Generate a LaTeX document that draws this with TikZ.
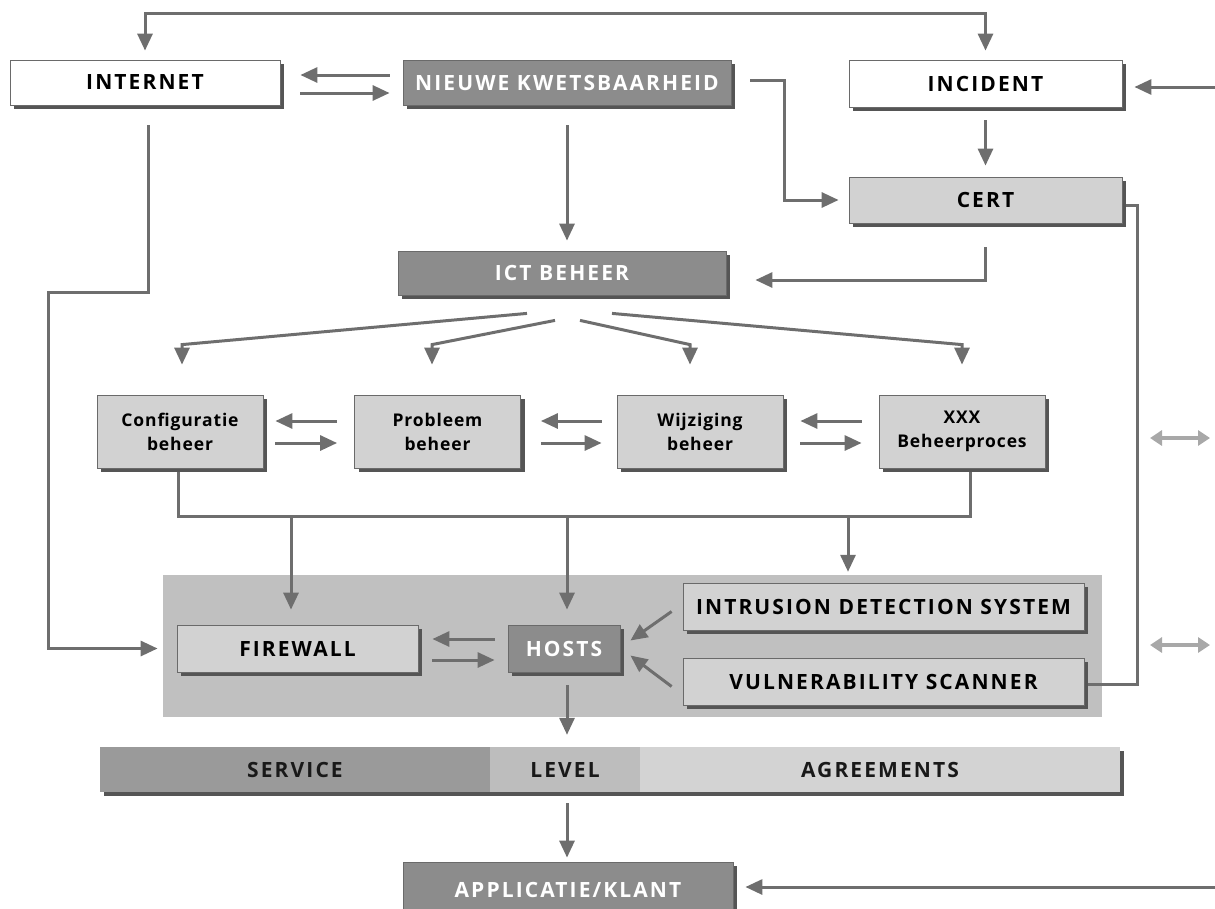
\documentclass[tikz,border=0pt]{standalone}
\usepackage{fontspec}
\setmainfont{Open Sans}
\newfontfamily\capsfont{Open Sans}[LetterSpace=10]
\newfontfamily\procfont{Open Sans}[LetterSpace=5]
\usetikzlibrary{arrows.meta,calc,shadows}
\definecolor{linec}{HTML}{6E6E6E}
\definecolor{borderc}{HTML}{6A6A6A}
\definecolor{shadowc}{HTML}{555555}
\definecolor{darkc}{HTML}{8C8C8C}
\definecolor{lightc}{HTML}{D2D2D2}
\definecolor{zonec}{HTML}{C0C0C0}
\definecolor{slaA}{HTML}{9A9A9A}
\definecolor{slaB}{HTML}{BDBDBD}
\definecolor{slaC}{HTML}{D3D3D3}
\definecolor{palec}{HTML}{A8A8A8}
\pgfdeclarelayer{back}
\pgfdeclarelayer{wires}
\pgfsetlayers{back,wires,main}
\tikzset{
  base/.style={draw=borderc, line width=0.8pt, inner sep=0pt, align=center,
    drop shadow={shadow xshift=4pt, shadow yshift=-4pt, fill=shadowc, opacity=1}},
  whitebox/.style={base, fill=white, text=black},
  lightbox/.style={base, fill=lightc, text=black},
  darkbox/.style={base, fill=darkc, text=white},
  caps/.style={font=\capsfont\bfseries\fontsize{21}{24}\selectfont},
  proc/.style={lightbox, font=\procfont\bfseries\fontsize{17.5}{24}\selectfont,
    minimum width=166pt, minimum height=73pt},
  slaseg/.style={inner sep=0pt, minimum height=45pt, text=black!90, caps},
  wire/.style={draw=linec, line width=3pt},
  arr/.style={wire, -{Triangle[length=17pt,width=15pt]}},
  dbl/.style={draw=linec, line width=3pt,
    {Triangle[length=17pt,width=15pt]}-{Triangle[length=17pt,width=15pt]}},
  pale/.style={draw=palec, line width=4pt,
    {Triangle[length=12pt,width=15pt]}-{Triangle[length=12pt,width=15pt]}},
}
\begin{document}
\begin{tikzpicture}[x=1pt,y=-1pt]
\useasboundingbox (0,0) rectangle (1215,908);
\clip (0,0) rectangle (1215,908);

% ---------- boxes ----------
\node[whitebox, caps, minimum width=270pt, minimum height=45pt] (internet) at (145,82.5) {INTERNET};
\node[darkbox, caps, minimum width=328pt, minimum height=45pt] (nieuwe) at (567,82.5) {NIEUWE KWETSBAARHEID};
\node[whitebox, caps, minimum width=273pt, minimum height=47pt] (incident) at (985.5,83.5) {INCIDENT};
\node[lightbox, caps, minimum width=273pt, minimum height=46pt] (cert) at (985.5,200) {CERT};
\node[darkbox, caps, minimum width=328pt, minimum height=44pt] (ict) at (562,273) {ICT BEHEER};

\node[proc] (conf) at (180,431.5) {Configuratie\\beheer};
\node[proc] (prob) at (437.5,431.5) {Probleem\\beheer};
\node[proc] (wijz) at (700,431.5) {Wijziging\\beheer};
\node[proc] (xxx)  at (962,431.5) {XXX\\Beheerproces};

\begin{pgfonlayer}{back}
  \node[fill=zonec, inner sep=0pt, minimum width=939pt, minimum height=142pt] (zone) at (632.5,646) {};
\end{pgfonlayer}
\node[lightbox, caps, minimum width=241pt, minimum height=47pt] (firewall) at (297.5,648.5) {FIREWALL};
\node[darkbox, caps, minimum width=112pt, minimum height=47pt] (hosts) at (564,648.5) {HOSTS};
\node[lightbox, caps, minimum width=401pt, minimum height=47pt] (ids) at (883.5,606.5) {INTRUSION DETECTION SYSTEM};
\node[lightbox, caps, minimum width=401pt, minimum height=47pt] (vuln) at (883.5,681.5) {VULNERABILITY SCANNER};

% service level agreements bar
\fill[shadowc] (104,751) rectangle (1124,796);
\node[slaseg, fill=slaA, minimum width=390pt] (service) at (295,769.5) {SERVICE};
\node[slaseg, fill=slaB, minimum width=150pt] (level) at (565,769.5) {LEVEL};
\node[slaseg, fill=slaC, minimum width=480pt] (agree) at (880,769.5) {AGREEMENTS};

\node[darkbox, caps, minimum width=330pt, minimum height=52pt, text depth=0pt] (app) at (568,888) {\raisebox{-3pt}{APPLICATIE/KLANT}};

% ---------- connectors ----------
\begin{pgfonlayer}{wires}
  % feedback along the top
  \coordinate (topL) at (145,13);
  \coordinate (topR) at (985.5,13);
  \draw[dbl, shorten <=9pt, shorten >=9pt] (internet.north) -- (topL) -- (topR) -- (incident.north);

  % internet <-> nieuwe kwetsbaarheid
  \draw[arr] ($(nieuwe.west)+(-13,-7.5)$) -- ($(internet.east)+(20,-7.5)$);
  \draw[arr] ($(internet.east)+(20,10.5)$) -- ($(nieuwe.west)+(-13,10.5)$);

  % nieuwe kwetsbaarheid -> cert
  \coordinate (nkc) at (784,80);
  \draw[arr, shorten >=10pt] ($(nieuwe.east)+(19,-2.5)$) -- (nkc) |- (cert.west);

  % incident
  \coordinate (incR) at (1215,87);
  \draw[arr, shorten >=12pt] (incR) -- (incR -| incident.east);
  \draw[arr, shorten <=13pt, shorten >=11pt] (incident.south) -- (cert.north);

  % cert -> ict beheer, cert -> vulnerability scanner
  \draw[arr, shorten <=24pt, shorten >=29pt] (cert.south) |- ([yshift=-7pt]ict.east);
  \coordinate (cvR) at (1137,205);
  \draw[wire] ([yshift=-5pt]cert.east) -- (cvR) |- ([yshift=-3pt]vuln.east);

  % nieuwe kwetsbaarheid -> ict beheer
  \draw[arr, shorten <=20pt, shorten >=10pt] (nieuwe.south) -- (nieuwe.south |- ict.north);

  % internet -> firewall
  \coordinate (ilA) at (48,292);
  \draw[arr, shorten <=20pt, shorten >=19pt] ([xshift=3pt]internet.south) -- ([xshift=3pt]internet.south |- ilA) -- (ilA) |- (firewall.west);

  % ict beheer fans out to the processes
  \draw[arr, shorten >=30pt] ($(ict.south)+(-35,18)$) -- ($(conf.north)+(2,-50)$) -- ([xshift=2pt]conf.north);
  \draw[arr, shorten >=30pt] ($(ict.south)+(-7,25)$) -- ($(prob.north)+(-5.5,-50)$) -- ([xshift=-5.5pt]prob.north);
  \draw[arr, shorten >=30pt] ($(ict.south)+(18,25)$) -- ($(wijz.north)+(-10,-50)$) -- ([xshift=-10pt]wijz.north);
  \draw[arr, shorten >=30pt] ($(ict.south)+(50,18)$) -- ($(xxx.north)+(0,-50)$) -- (xxx.north);

  % between the processes
  \draw[arr] ($(prob.west)+(-17,-10.5)$) -- ($(conf.east)+(12,-10.5)$);
  \draw[arr] ($(conf.east)+(12,11.5)$) -- ($(prob.west)+(-17,11.5)$);
  \draw[arr] ($(wijz.west)+(-15,-10.5)$) -- ($(prob.east)+(20,-10.5)$);
  \draw[arr] ($(prob.east)+(20,11.5)$) -- ($(wijz.west)+(-15,11.5)$);
  \draw[arr] ($(xxx.west)+(-17,-10.5)$) -- ($(wijz.east)+(17,-10.5)$);
  \draw[arr] ($(wijz.east)+(17,11.5)$) -- ($(xxx.west)+(-17,11.5)$);

  % processes collect on a bus
  \coordinate (bus) at (0,516);
  \coordinate (cb) at ([xshift=-2pt]conf.south);
  \coordinate (xb) at ([xshift=8pt]xxx.south);
  \draw[wire] (cb) -- (cb |- bus) -- (xb |- bus) -- (xb);
  \coordinate (dropA) at (291,516);
  \coordinate (dropB) at (567,516);
  \coordinate (dropC) at (848,516);
  \draw[arr, shorten >=15pt] (dropA) -- (dropA |- firewall.north);
  \draw[arr, shorten >=15pt] (dropB) -- (dropB |- hosts.north);
  \draw[arr, shorten >=3pt] (dropC) -- (dropC |- zone.north);

  % firewall <-> hosts
  \draw[arr] ($(hosts.west)+(-13,-9.5)$) -- ($(firewall.east)+(14,-9.5)$);
  \draw[arr] ($(firewall.east)+(14,11.5)$) -- ($(hosts.west)+(-13,11.5)$);

  % sensors -> hosts
  \draw[arr] ($(ids.west)+(-11,5)$) -- ($(hosts.east)+(10,-8)$);
  \draw[arr] ($(vuln.west)+(-11,5)$) -- ($(hosts.east)+(10,7)$);

  % hosts -> sla -> applicatie
  \draw[arr, shorten <=13pt, shorten >=12pt] (dropB |- hosts.south) -- (dropB |- level.north);
  \draw[arr, shorten <=11pt, shorten >=4pt] (dropB |- level.south) -- (dropB |- app.north);
  \coordinate (appR) at (1215,887);
  \draw[arr, shorten >=12pt] (appR) -- (appR -| app.east);

  % external exchange markers
  \coordinate (pA1) at (1150,438);
  \coordinate (pA2) at (1210,438);
  \coordinate (pB1) at (1150,645);
  \coordinate (pB2) at (1210,645);
  \draw[pale] (pA1) -- (pA2);
  \draw[pale] (pB1) -- (pB2);
\end{pgfonlayer}
\end{tikzpicture}
\end{document}
